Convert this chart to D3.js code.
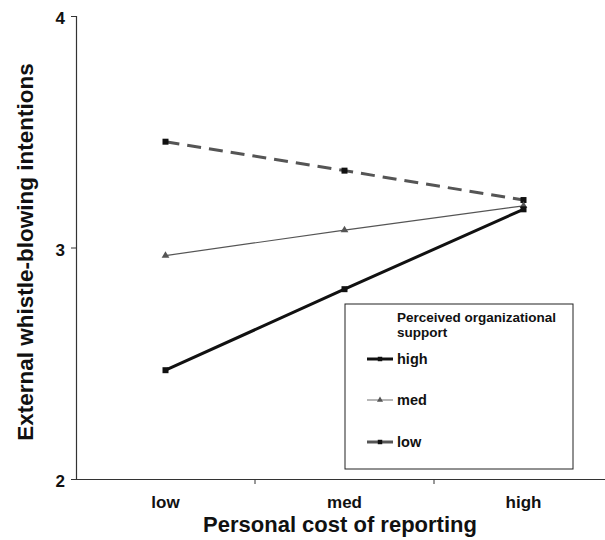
<!DOCTYPE html>
<html><head><meta charset="utf-8">
<script src="https://cdn.jsdelivr.net/npm/d3@7"></script>
<style>body{margin:0;background:#fff}svg{display:block}text{font-family:Arial,"Liberation Sans",sans-serif;font-weight:bold;fill:#111}</style>
</head><body><svg id="c" width="605" height="540"></svg>
<script>
const categories = ["low", "med", "high"];
const seriesNames = ["high", "med", "low"];
const highValues = [2.47, 2.82, 3.165];
const medValues = [2.965, 3.075, 3.18];
const lowValues = [3.457, 3.332, 3.205];
const yTicks = [2, 3, 4];

const svg = d3.select("#c");
const x = d3.scaleBand().domain(categories).range([76, 613]);
const y = d3.scaleLinear().domain([2, 4]).range([479, 16]);

// y axis
const ya = svg.append("g").attr("transform", "translate(76,0)")
  .call(d3.axisLeft(y).tickValues(yTicks).tickSize(5).tickFormat(""));
ya.select(".domain").attr("stroke", "#333").attr("stroke-width", 1.2);
ya.selectAll(".tick line").attr("stroke", "#333");
ya.selectAll(".tick text").remove();
ya.selectAll(".tick").append("text")
  .attr("x", -11).attr("dy", "0.45em").attr("text-anchor", "end")
  .attr("font-size", 17).attr("font-weight", "bold")
  .attr("font-family", "Arial, 'Liberation Sans', sans-serif").attr("fill", "#111")
  .style("font-size", "17px").style("font-weight", "bold")
  .text(d => d3.format("d")(d));

// x axis
const xa = svg.append("g").attr("transform", "translate(0,479)")
  .call(d3.axisBottom(x).tickSize(0).tickPadding(17));
xa.attr("font-family", null).attr("font-size", null);
xa.select(".domain").attr("stroke", "#333").attr("stroke-width", 1.2);
xa.selectAll(".tick text").attr("fill", "#111").style("font-size", "17px").style("font-weight", "bold");
// band boundary ticks
const bounds = categories.slice(1).map(c => x(c));
xa.selectAll(".bt").data(bounds).enter().append("line")
  .attr("x1", d => d).attr("x2", d => d).attr("y1", 0).attr("y2", 5).attr("stroke", "#333");

const cx = c => x(c) + x.bandwidth() / 2;

const series = [
  {name: "high", values: highValues, color: "#111", width: 3, dash: null, marker: "square", legendColor: "#111"},
  {name: "med", values: medValues, color: "#555", width: 1.2, dash: null, marker: "triangle", legendColor: "#888"},
  {name: "low", values: lowValues, color: "#555", width: 3, dash: "14,8", marker: "square", legendColor: "#555"}
];
const line = d3.line().x((d, i) => cx(categories[i])).y(d => y(d));
const sq = d3.symbol().type(d3.symbolSquare).size(36);
const tri = d3.symbol().type(d3.symbolTriangle).size(26);

series.slice().reverse().forEach(s => {
  svg.append("path").datum(s.values).attr("d", line).attr("fill", "none")
    .attr("stroke", s.color).attr("stroke-width", s.width).attr("stroke-dasharray", s.dash);
});
series.slice().reverse().forEach(s => {
  svg.selectAll(null).data(s.values).enter().append("path")
    .attr("d", s.marker === "square" ? sq : tri)
    .attr("transform", (d, i) => `translate(${cx(categories[i])},${y(d)})`)
    .attr("fill", s.marker === "square" ? "#111" : "#555");
});

// axis titles
svg.append("text").attr("x", 340).attr("y", 532).attr("text-anchor", "middle")
  .style("font-size", "22px").text("Personal cost of reporting");
svg.append("text").attr("transform", "translate(33,252) rotate(-90)").attr("text-anchor", "middle")
  .style("font-size", "22.5px").text("External whistle-blowing intentions");

// legend
const lg = svg.append("g");
lg.append("rect").attr("x", 345).attr("y", 304).attr("width", 228).attr("height", 165)
  .attr("fill", "#fff").attr("stroke", "#222").attr("stroke-width", 1);
lg.append("text").attr("x", 397).attr("y", 322).style("font-size", "13.5px").text("Perceived organizational");
lg.append("text").attr("x", 397).attr("y", 337).style("font-size", "13.5px").text("support");
const ly = [359, 400, 442];
series.forEach((s, i) => {
  lg.append("line").attr("x1", 367).attr("x2", 393).attr("y1", ly[i]).attr("y2", ly[i])
    .attr("stroke", s.legendColor).attr("stroke-width", s.width);
  lg.append("path").attr("d", s.marker === "square" ? d3.symbol().type(d3.symbolSquare).size(20) : d3.symbol().type(d3.symbolTriangle).size(16))
    .attr("transform", `translate(380,${ly[i]})`).attr("fill", s.marker === "square" ? "#111" : "#555");
  lg.append("text").attr("x", 397).attr("y", ly[i]).attr("dy", "0.35em").style("font-size", "14.5px").text(seriesNames[i]);
});
</script></body></html>
